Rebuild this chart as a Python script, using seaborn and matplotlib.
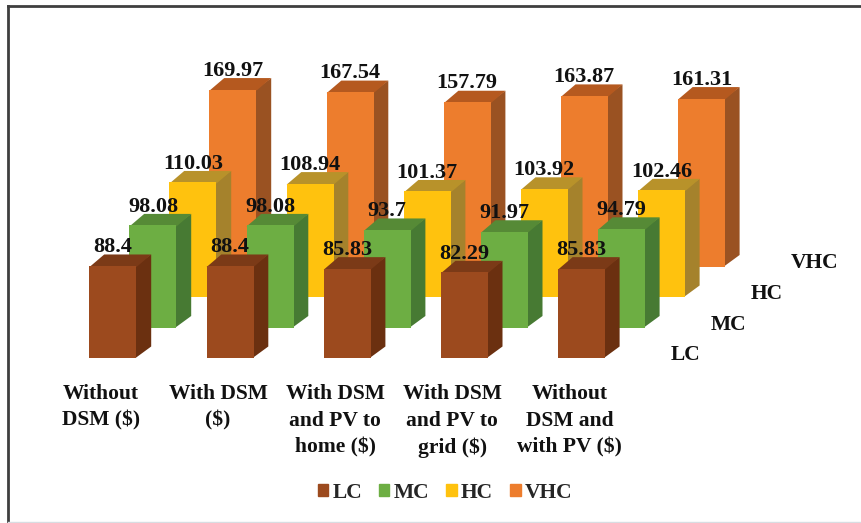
import pandas as pd
import seaborn as sns
import matplotlib.pyplot as plt
from matplotlib.patches import Patch

categories = ['Without\nDSM ($)', 'With DSM\n($)', 'With DSM\nand PV to\nhome ($)',
              'With DSM\nand PV to\ngrid ($)', 'Without\nDSM and\nwith PV ($)']
series = ['LC', 'MC', 'HC', 'VHC']
lc = [88.4, 88.4, 85.83, 82.29, 85.83]
mc = [98.08, 98.08, 93.7, 91.97, 94.79]
hc = [110.03, 108.94, 101.37, 103.92, 102.46]
vhc = [169.97, 167.54, 157.79, 163.87, 161.31]
values = [lc, mc, hc, vhc]

front_colors = ['#9C4A1E', '#6DAE43', '#FFC20E', '#ED7D2D']
top_colors = ['#7B3A17', '#568A36', '#B8922A', '#B5591F']
side_colors = ['#6B3010', '#477A33', '#A5822C', '#9A5222']

W, H = 861, 523
PX = 1.041  # pixels per value unit
FRAME_L, FRAME_T, FRAME_B = 8, 6, 522
BAR_W = 47
STEP_X = 117.1
FIRST_X = 89.5 + BAR_W / 2
DEPTH_X = 40
DEPTH_Y = 30.5 / PX
SIDE_X = 14.7
SIDE_Y = 11.5 / PX
BASE_Y = (FRAME_B - 358) / PX
SERIF = 'Liberation Serif'

sns.set_theme(style='white')
plt.rcParams['font.family'] = SERIF
plt.rcParams['font.weight'] = 'bold'

fig = plt.figure(figsize=(W / 100, H / 100), dpi=100)
ax = fig.add_axes([FRAME_L / W, 1 - FRAME_B / H, 1 - FRAME_L / W, (FRAME_B - FRAME_T) / H])

# back row first so the front rows cover it
for i in [3, 2, 1, 0]:
    df = pd.DataFrame({'pos': [FIRST_X + STEP_X * c + DEPTH_X * i for c in range(len(categories))],
                       'cost': values[i]})
    base = BASE_Y + DEPTH_Y * i
    sns.barplot(data=df, x='pos', y='cost', native_scale=True, width=BAR_W / STEP_X,
                color=front_colors[i], saturation=1, errorbar=None, bottom=base,
                linewidth=0, zorder=10 - i, ax=ax)
    for p, v in zip(df['pos'], df['cost']):
        l, r = p - BAR_W / 2, p + BAR_W / 2
        t = base + v
        # faces run 1px under the front so no white seam shows
        ax.fill([r - 1, r + SIDE_X, r + SIDE_X, r - 1], [base, base + SIDE_Y, t + SIDE_Y, t],
                color=side_colors[i], lw=0, zorder=9.6 - i)
        ax.fill([l, r, r + SIDE_X, l + SIDE_X], [t - 1, t - 1, t + SIDE_Y, t + SIDE_Y],
                color=top_colors[i], lw=0, zorder=9.7 - i)
        ax.annotate(f'{v:g}', xy=(p, t), xytext=(0, 13.5), textcoords='offset points',
                    ha='center', va='center', fontsize=16, color='#111111', zorder=20)
    # series name on the depth axis
    ax.annotate(series[i], xy=(671 + DEPTH_X * i, BASE_Y + DEPTH_Y * i + 3 / PX), ha='left', va='center',
                fontsize=15.5, color='#111111')

# category labels under the front row
for c, label in enumerate(categories):
    ax.text(FIRST_X - 12 + STEP_X * c, (FRAME_B - 384) / PX, label, ha='center', va='top',
            fontsize=15.5, color='#111111', linespacing=1.45)

ax.set_xlim(FRAME_L, W)
ax.set_ylim(0, (FRAME_B - FRAME_T) / PX)
ax.set_xticks([])
ax.set_yticks([])
ax.set_xlabel('')
ax.set_ylabel('')

for name in ['left', 'top']:
    ax.spines[name].set_color('#3f3f3f')
    ax.spines[name].set_linewidth(2)
ax.spines['right'].set_visible(False)
ax.spines['bottom'].set_color('#d8dde2')
ax.spines['bottom'].set_linewidth(1)

handles = [Patch(color=c, label=s) for c, s in zip(front_colors, series)]
ax.legend(handles=handles, ncol=4, loc='center', frameon=False,
          fontsize=15.5, handlelength=0.49, handleheight=0.49,
          handletextpad=0.2, columnspacing=0.78, borderpad=0)
leg = ax.get_legend()
leg.set_bbox_to_anchor((445 / W, 1 - 493 / H), transform=fig.transFigure)

fig.savefig('out.png', dpi=100)
